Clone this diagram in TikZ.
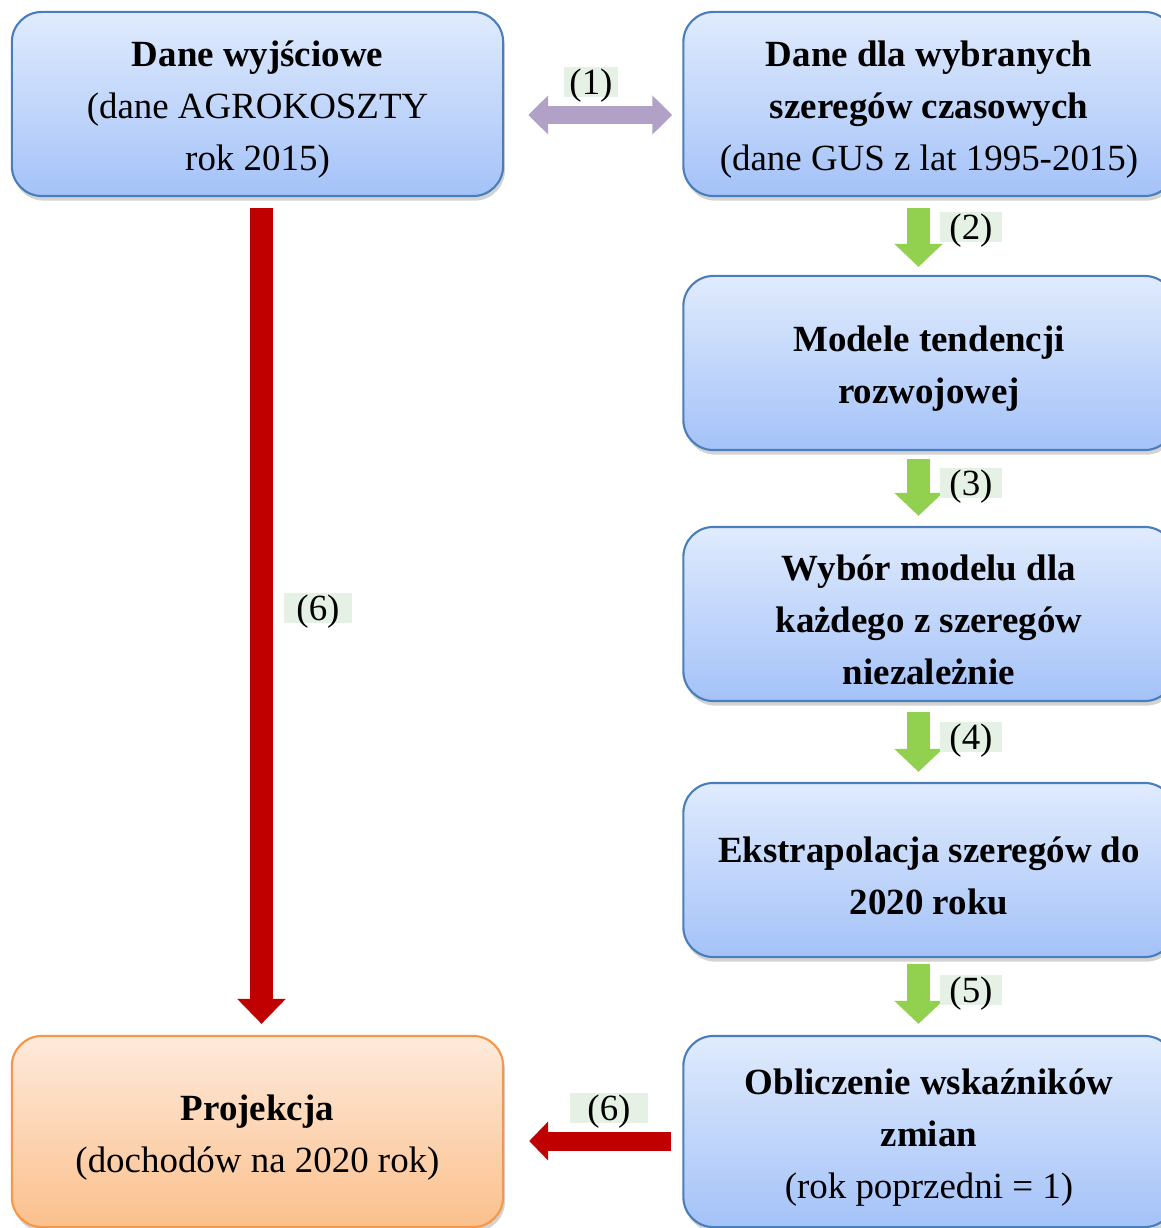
\documentclass[tikz,border=0pt]{standalone}
\usepackage{fontspec}
\setmainfont{Liberation Serif}
\usepackage{xcolor}
\definecolor{boxtop}{RGB}{224,235,253}
\definecolor{boxbot}{RGB}{164,194,248}
\definecolor{boxline}{RGB}{74,126,187}
\definecolor{restop}{RGB}{254,234,219}
\definecolor{resbot}{RGB}{251,192,141}
\definecolor{resline}{RGB}{247,150,70}
\definecolor{lblbg}{RGB}{228,241,228}
\definecolor{arrpurple}{RGB}{178,161,199}
\definecolor{arrgreen}{RGB}{146,208,80}
\definecolor{arrred}{RGB}{192,0,0}
\usetikzlibrary{positioning,arrows.meta,shadows}
\newcommand{\firstln}{\rule{0pt}{10.6pt}}

\begin{document}
\begin{tikzpicture}[x=0.01cm, y=-0.01cm, font=\fontsize{10.5}{14.8}\selectfont,
  blk/.style={draw=boxline, line width=0.6pt, rounded corners=0.3cm,
    top color=boxtop, bottom color=boxbot, align=center, inner sep=0pt,
    minimum width=4.91cm,
    drop shadow={shadow xshift=0.5pt, shadow yshift=-1.3pt, opacity=0.35}},
  res/.style={blk, draw=resline, top color=restop, bottom color=resbot},
  lbl/.style={fill=lblbg, inner sep=0pt, text height=7.8pt, text depth=0.8pt, minimum width=0.62cm},
  grn/.style={draw=arrgreen, line width=0.23cm, -{Triangle[width=0.47cm, length=0.23cm]}},
  redv/.style={draw=arrred, line width=0.23cm, -{Triangle[width=0.47cm, length=0.25cm]}},
  redh/.style={draw=arrred, line width=0.19cm, -{Triangle[width=0.38cm, length=0.19cm]}},
  dbl/.style={draw=arrpurple, line width=0.18cm,
    {Triangle[width=0.38cm, length=0.2cm]}-{Triangle[width=0.38cm, length=0.2cm]}}]
\useasboundingbox (0,0) rectangle (1160,1228);
% boxes
\node[blk, minimum height=1.84cm] (src) at (257.5,104)
  {\firstln\textbf{Dane wyjściowe}\\ (dane AGROKOSZTY\\ rok 2015)};
\node[blk, minimum height=1.84cm] (gus) at (929,104)
  {\firstln\textbf{Dane dla wybranych}\\ \textbf{szeregów czasowych}\\ (dane GUS z lat 1995-2015)};
\node[blk, minimum height=1.74cm] (model) at (929,363)
  {\firstln\textbf{Modele tendencji}\\ \textbf{rozwojowej}};
\node[blk, minimum height=1.74cm] (choice) at (929,614)
  {\firstln\textbf{Wybór modelu dla}\\ \textbf{każdego z szeregów}\\ \textbf{niezależnie}};
\node[blk, minimum height=1.74cm] (extra) at (929,870)
  {\firstln\textbf{Ekstrapolacja szeregów do}\\ \textbf{2020 roku}};
\node[blk, minimum height=1.91cm] (calc) at (929,1131.5)
  {\firstln\textbf{Obliczenie wskaźników}\\ \textbf{zmian}\\ (rok poprzedni = 1)};
\node[res, minimum height=1.91cm] (proj) at (257.5,1131.5)
  {\firstln\textbf{Projekcja}\\ (dochodów na 2020 rok)};
% connectors
\draw[dbl, shorten <=0.24cm, shorten >=0.10cm] ([yshift=-0.11cm]src.east) -- ([yshift=-0.11cm]gus.west);
\draw[grn, shorten <=0.11cm, shorten >=0.08cm] ([xshift=-0.105cm]gus.south) -- ([xshift=-0.105cm]model.north);
\draw[grn, shorten <=0.08cm, shorten >=0.10cm] ([xshift=-0.105cm]model.south) -- ([xshift=-0.105cm]choice.north);
\draw[grn, shorten <=0.10cm, shorten >=0.10cm] ([xshift=-0.105cm]choice.south) -- ([xshift=-0.105cm]extra.north);
\draw[grn, shorten <=0.06cm, shorten >=0.11cm] ([xshift=-0.105cm]extra.south) -- ([xshift=-0.105cm]calc.north);
\draw[redv, shorten <=0.11cm, shorten >=0.11cm] ([xshift=0.04cm]src.south) -- ([xshift=0.04cm]proj.north);
\draw[redh, shorten <=0.11cm, shorten >=0.25cm] ([yshift=-0.095cm]calc.west) -- ([yshift=-0.095cm]proj.east);
% labels
\node[lbl, minimum width=0.53cm] (l1) at (591,82) {(1)};
\node[lbl] (l2) at (971,227) {(2)};
\node[lbl] (l3) at (971,483) {(3)};
\node[lbl] (l4) at (971,737) {(4)};
\node[lbl] (l5) at (971,990) {(5)};
\node[lbl, minimum width=0.68cm] (l6a) at (318,608) {(6)};
\node[lbl, minimum width=0.78cm] (l6b) at (609,1108) {(6)};
\end{tikzpicture}
\end{document}
